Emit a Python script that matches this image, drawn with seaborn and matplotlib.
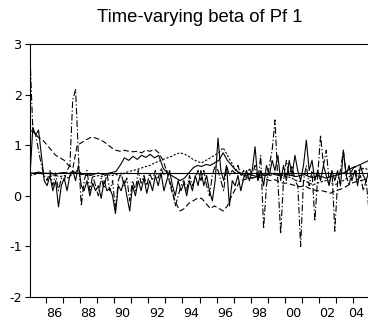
import numpy as np
import matplotlib
matplotlib.use("Agg")
import matplotlib.pyplot as plt
import matplotlib.transforms as mtransforms
import seaborn as sns

# ---------------- data ----------------
title = "Time-varying beta of Pf 1"
year_start, year_end = 1985.08, 2004.92

# constant beta
const_beta = [0.45, 0.45]

# volatile series (about bi-monthly), dash-dot with big spikes
beta_dashdot = [
    2.75, 1.30, 1.20, 0.90, 0.60, 0.40,
    0.30, 0.50, 0.20, 0.45, 0.10, 0.35,
    0.30, 0.50, 0.60, 1.90, 2.10, 0.80,
    -0.20, 0.30, 0.50, 0.10, 0.40, 0.20,
    0.00, 0.35, 0.15, 0.45, 0.10, 0.30,
    -0.30, 0.30, 0.45, 0.20, 0.35, -0.10,
    0.30, 0.10, 0.50, 0.25, 0.40, 0.20,
    0.45, 0.30, 0.50, 0.35, 0.55, 0.40,
    0.50, 0.30, 0.10, -0.20, 0.00, 0.20,
    0.30, 0.10, 0.40, 0.20, 0.35, 0.50,
    0.30, 0.50, 0.20, 0.00, 0.40, 0.60,
    0.50, 0.30, 0.10, 0.60, 0.40, 0.50,
    0.45, 0.60, 0.40, 0.50, 0.35, 0.55,
    0.40, 0.60, 0.30, 0.80, -0.65, 0.20,
    0.60, 0.90, 1.50, 0.30, -0.75, 0.30,
    0.70, 0.40, 0.60, 0.30, 0.20, -1.00,
    0.30, 0.60, 0.20, 0.50, -0.50, 0.40,
    1.20, 0.60, 0.90, 0.30, 0.50, -0.70,
    0.30, 0.50, 0.90, 0.40, 0.20, 0.50,
    0.60, 0.30, 0.40, 0.10, 0.30, -0.30,
]

# volatile series (about bi-monthly), solid
beta_solid_vol = [
    0.40, 1.35, 1.20, 1.30, 0.80, 0.30,
    0.20, 0.40, 0.10, 0.30, -0.22, 0.20,
    0.35, 0.10, 0.40, 0.50, 0.30, 0.60,
    0.20, 0.10, 0.30, 0.00, 0.25, 0.10,
    0.20, -0.05, 0.30, 0.10, 0.15, 0.00,
    -0.35, 0.20, 0.10, 0.30, 0.00, -0.30,
    0.20, 0.00, 0.30, 0.10, 0.35, 0.05,
    0.30, 0.10, 0.40, 0.20, 0.45, 0.10,
    0.30, 0.50, 0.20, 0.00, 0.30, 0.10,
    0.25, 0.00, 0.30, 0.10, 0.40, 0.20,
    0.50, 0.20, 0.40, 0.10, -0.10, 0.30,
    1.14, 0.50, 0.30, 0.60, -0.20, 0.30,
    0.20, 0.40, 0.10, 0.35, 0.50, 0.30,
    0.50, 0.97, 0.30, 0.50, 0.20, 0.60,
    0.40, 0.70, 0.50, 0.80, 0.30, 0.60,
    0.30, 0.70, 0.40, 0.80, 0.50, 0.30,
    0.60, 1.10, 0.50, 0.70, 0.30, 0.50,
    0.30, 0.60, 0.40, 0.20, 0.50, 0.30,
    0.50, 0.20, 0.90, 0.40, 0.60, 0.30,
    0.50, 0.20, 0.60, 0.40, 0.30, 0.50,
]

# smooth series (quarterly), long dashes
beta_long_dash = [
    1.30, 1.25, 1.15, 1.10,
    1.00, 0.90, 0.80, 0.75,
    0.70, 0.60, 0.55, 1.00,
    1.05, 1.10, 1.15, 1.15,
    1.12, 1.08, 1.02, 0.95,
    0.90, 0.88, 0.90, 0.88,
    0.87, 0.88, 0.85, 0.90,
    0.88, 0.92, 0.85, 0.70,
    0.45, 0.10, -0.15, -0.30,
    -0.25, -0.15, -0.10, -0.05,
    -0.05, -0.15, -0.25, -0.20,
    -0.25, -0.30, -0.20, 0.00,
    0.15, 0.30, 0.32, 0.35,
    0.35, 0.38, 0.35, 0.33,
    0.30, 0.32, 0.28, 0.25,
    0.25, 0.22, 0.20, 0.18,
    0.20, 0.15, 0.12, 0.10,
    0.10, 0.08, 0.05, 0.10,
    0.12, 0.15, 0.20, 0.25,
    0.28, 0.30, 0.32, 0.35,
]

# smooth series (quarterly), solid
beta_solid_smooth = [
    0.45, 0.45, 0.47, 0.45,
    0.44, 0.45, 0.43, 0.45,
    0.46, 0.44, 0.48, 0.45,
    0.42, 0.44, 0.40, 0.43,
    0.45, 0.42, 0.44, 0.46,
    0.48, 0.60, 0.75, 0.70,
    0.78, 0.72, 0.80, 0.76,
    0.82, 0.75, 0.80, 0.55,
    0.45, 0.40, 0.35, 0.30,
    0.35, 0.45, 0.55, 0.60,
    0.58, 0.62, 0.60, 0.65,
    0.70, 0.85, 0.70, 0.60,
    0.50, 0.45, 0.40, 0.42,
    0.40, 0.38, 0.42, 0.40,
    0.45, 0.42, 0.40, 0.44,
    0.42, 0.40, 0.38, 0.40,
    0.42, 0.38, 0.36, 0.40,
    0.38, 0.35, 0.38, 0.40,
    0.42, 0.45, 0.50, 0.55,
    0.58, 0.62, 0.66, 0.70,
]

# smooth series (quarterly), short dashes
beta_short_dash = [
    0.40, 0.42, 0.45, 0.43,
    0.45, 0.42, 0.40, 0.38,
    0.40, 0.35, 0.45, 0.50,
    0.45, 0.40, 0.42, 0.38,
    0.40, 0.38, 0.42, 0.40,
    0.42, 0.40, 0.45, 0.48,
    0.50, 0.52, 0.55, 0.58,
    0.60, 0.65, 0.68, 0.72,
    0.75, 0.78, 0.82, 0.85,
    0.82, 0.78, 0.72, 0.68,
    0.65, 0.70, 0.75, 0.80,
    0.85, 0.95, 0.80, 0.65,
    0.50, 0.42, 0.38, 0.35,
    0.36, 0.38, 0.40, 0.42,
    0.40, 0.45, 0.42, 0.40,
    0.38, 0.35, 0.30, 0.28,
    0.30, 0.25, 0.22, 0.25,
    0.28, 0.30, 0.25, 0.22,
    0.25, 0.30, 0.35, 0.42,
    0.48, 0.52, 0.55, 0.50,
]

y_ticks = [-2, -1, 0, 1, 2, 3]
year_ticks = list(range(1986, 2005))
label_years = list(range(1986, 2005, 2))
label_texts = ["86", "88", "90", "92", "94", "96", "98", "00", "02", "04"]

# ---------------- plotting ----------------
sns.set_style("ticks")
plt.rcParams["font.family"] = ["Liberation Sans", "DejaVu Sans"]
plt.rcParams["axes.unicode_minus"] = False

fig = plt.figure(figsize=(3.68, 3.24), dpi=100)
ax = fig.add_axes([30 / 368, 27 / 324, 339 / 368, 253 / 324])

def tgrid(values):
    return np.linspace(year_start, year_end, len(values))

lw = 0.8
sns.lineplot(x=[year_start, year_end], y=const_beta, ax=ax, color="black", linewidth=lw)
sns.lineplot(x=tgrid(beta_solid_smooth), y=beta_solid_smooth, ax=ax, color="black", linewidth=lw)
sns.lineplot(x=tgrid(beta_short_dash), y=beta_short_dash, ax=ax, color="black",
             linewidth=lw, linestyle=(0, (2.0, 1.5)))
sns.lineplot(x=tgrid(beta_long_dash), y=beta_long_dash, ax=ax, color="black",
             linewidth=lw, linestyle=(0, (5, 2.5)))
sns.lineplot(x=tgrid(beta_solid_vol), y=beta_solid_vol, ax=ax, color="black", linewidth=lw)
sns.lineplot(x=tgrid(beta_dashdot), y=beta_dashdot, ax=ax, color="black",
             linewidth=lw, linestyle=(0, (6, 2, 1.2, 2)))

tick_font = {"family": ["DejaVu Sans"], "size": 9.2}
ax.set_xlim(year_start, year_end)
ax.set_ylim(-2, 3)
ax.set_yticks(y_ticks)
ax.set_yticklabels([str(v) for v in y_ticks], fontdict=tick_font)
ax.set_xticks(year_ticks)
ax.set_xticklabels([])
ax.set_xticks([y + 0.5 for y in label_years], minor=True)
ax.set_xticklabels(label_texts, minor=True, fontdict=tick_font)
ax.tick_params(axis="x", which="major", direction="out", length=4, width=0.8, color="black")
ax.tick_params(axis="x", which="minor", length=0, pad=7, colors="black")
ax.tick_params(axis="y", direction="out", length=3.6, width=0.8, pad=2.4, colors="black")

# the last year label is nudged left so it stays inside the figure (as in the reference)
last_label = ax.get_xticklabels(minor=True)[-1]
last_label.set_transform(last_label.get_transform()
                         + mtransforms.ScaledTranslation(-6 / 100, 0, fig.dpi_scale_trans))

for s in ax.spines.values():
    s.set_visible(True)
    s.set_color("black")
    s.set_linewidth(0.8)
ax.set_xlabel("")
ax.set_ylabel("")
ax.set_title(title, fontsize=13.3, pad=15.5, color="black")

fig.savefig("out.png", dpi=100)
